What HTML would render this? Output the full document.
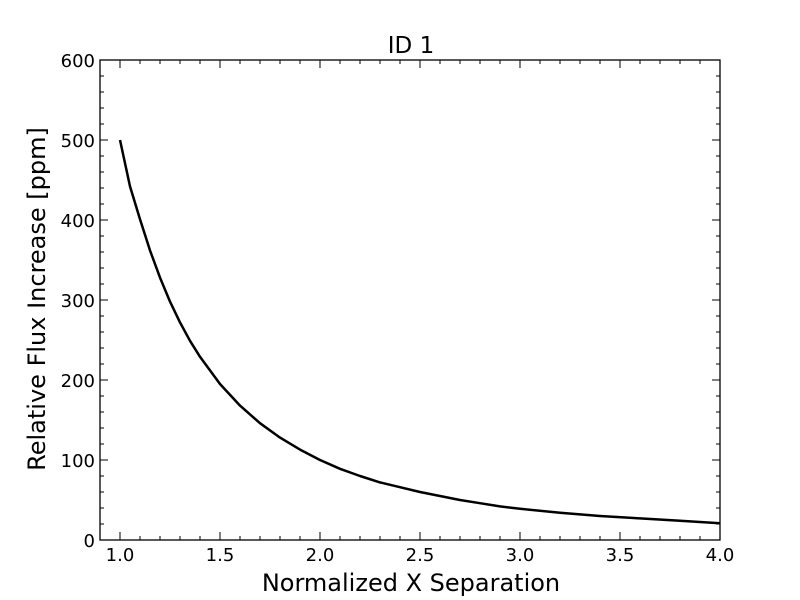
<!DOCTYPE html>
<html><head><meta charset="utf-8"><style>
body{margin:0;background:#fff}
svg{display:block;font-family:"DejaVu Sans","Liberation Sans",sans-serif}
</style></head><body>
<svg id="chart" width="800" height="600">
<rect width="800" height="600" fill="#fff"/>
<text x="411" y="53" font-size="23" text-anchor="middle">ID 1</text>
<text x="411" y="591" font-size="24" text-anchor="middle">Normalized X Separation</text>
<text transform="translate(45,299) rotate(-90)" font-size="24" text-anchor="middle">Relative Flux Increase [ppm]</text>
<g id="ticks"></g>
<path id="line" fill="none" stroke="#000" stroke-width="2.5" stroke-linejoin="round"/>
<rect x="100" y="60" width="620" height="480" fill="none" stroke="#000" stroke-width="1.3"/>
</svg>
<script>
const xValues=[1.0,1.05,1.1,1.15,1.2,1.25,1.3,1.35,1.4,1.5,1.6,1.7,1.8,1.9,2.0,2.1,2.2,2.3,2.4,2.5,2.6,2.7,2.8,2.9,3.0,3.2,3.4,3.6,3.8,4.0];
const fluxValues=[500,442,401,362,328,298,272,249,229,195,168,146,128,113,100,89,80,72,66,60,55,50,46,42,39,34,30,27,24,21];
const xTicks=[1.0,1.5,2.0,2.5,3.0,3.5,4.0];
const xTickLabels=["1.0","1.5","2.0","2.5","3.0","3.5","4.0"];
const yTicks=[0,100,200,300,400,500,600];
const yTickLabels=["0","100","200","300","400","500","600"];
const xMin=0.9,xMax=4.0,yMin=0,yMax=600;
const L=100,R=720,T=60,B=540;
const sx=v=>L+(v-xMin)/(xMax-xMin)*(R-L);
const sy=v=>B-(v-yMin)/(yMax-yMin)*(B-T);
const ns="http://www.w3.org/2000/svg";
const g=document.getElementById('ticks');
function ln(x1,y1,x2,y2){const l=document.createElementNS(ns,'line');l.setAttribute('x1',x1);l.setAttribute('y1',y1);l.setAttribute('x2',x2);l.setAttribute('y2',y2);l.setAttribute('stroke','#000');


g.appendChild(l);}
function tx(x,y,s,anchor,name){const t=document.createElementNS(ns,'text');t.setAttribute('x',x);t.setAttribute('y',y);t.setAttribute('font-size','18');t.setAttribute('text-anchor',anchor);t.textContent=s;


g.appendChild(t);}
for(let v=0.9;v<=4.0001;v+=0.1){const x=sx(v);ln(x,B,x,B-4);ln(x,T,x,T+4);}
xTicks.forEach((v,i)=>{const x=sx(v);ln(x,B,x,B-8);ln(x,T,x,T+8);tx(x,561,xTickLabels[i],'middle','x-tick-label');});
for(let v=0;v<=600;v+=20){const y=sy(v);ln(L,y,L+4,y);ln(R,y,R-4,y);}
yTicks.forEach((v,i)=>{const y=sy(v);ln(L,y,L+8,y);ln(R,y,R-8,y);tx(95,y+7,yTickLabels[i],'end','y-tick-label');});
document.getElementById('line').setAttribute('d',xValues.map((v,i)=>(i?'L':'M')+sx(v).toFixed(1)+','+sy(fluxValues[i]).toFixed(1)).join(''));
</script>
</body></html>
